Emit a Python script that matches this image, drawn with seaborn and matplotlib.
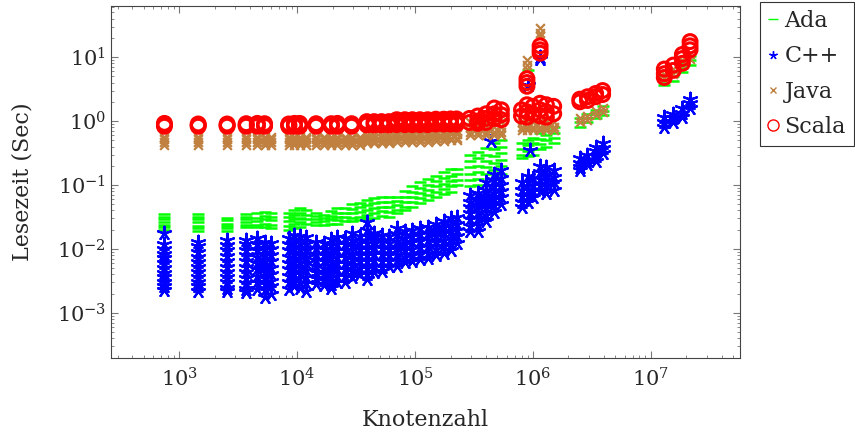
import pandas as pd
import matplotlib
matplotlib.use("Agg")
import matplotlib.pyplot as plt
from matplotlib.lines import Line2D
import seaborn as sns

# Messwerte: (Knotenzahl, [Lesezeiten in Sekunden])
ada = [
    (750, [0.035, 0.032, 0.029, 0.026, 0.024, 0.022, 0.020]),
    (1450, [0.035, 0.032, 0.029, 0.026, 0.023, 0.021, 0.019]),
    (2550, [0.031, 0.028, 0.025, 0.023, 0.021, 0.019]),
    (3700, [0.035, 0.032, 0.029, 0.026, 0.024, 0.022]),
    (4600, [0.036, 0.031, 0.027, 0.024, 0.022]),
    (5300, [0.038, 0.033, 0.029, 0.025, 0.022]),
    (6000, [0.037, 0.032, 0.028, 0.024, 0.021]),
    (8500, [0.037, 0.032, 0.027, 0.023, 0.020]),
    (9500, [0.040, 0.034, 0.029, 0.025, 0.021]),
    (10500, [0.044, 0.037, 0.031, 0.026, 0.022]),
    (11800, [0.040, 0.034, 0.029, 0.025]),
    (14500, [0.037, 0.033, 0.029, 0.026, 0.024]),
    (17000, [0.034, 0.030, 0.027, 0.024]),
    (19500, [0.039, 0.033, 0.029, 0.025]),
    (22000, [0.044, 0.037, 0.032, 0.028, 0.025]),
    (25500, [0.043, 0.037, 0.032, 0.027]),
    (29000, [0.050, 0.042, 0.036, 0.031, 0.027]),
    (34000, [0.052, 0.045, 0.038, 0.032, 0.028]),
    (39000, [0.058, 0.048, 0.040, 0.034, 0.029]),
    (45000, [0.062, 0.052, 0.044, 0.037, 0.031]),
    (52000, [0.065, 0.055, 0.046, 0.039, 0.033]),
    (60000, [0.064, 0.054, 0.045, 0.038, 0.032]),
    (70000, [0.066, 0.056, 0.048, 0.041, 0.036]),
    (82000, [0.080, 0.066, 0.055, 0.046, 0.040]),
    (95000, [0.095, 0.078, 0.065, 0.054, 0.045]),
    (110000, [0.110, 0.090, 0.075, 0.062, 0.052]),
    (128000, [0.125, 0.100, 0.083, 0.069, 0.058]),
    (150000, [0.140, 0.115, 0.095, 0.078, 0.065]),
    (175000, [0.160, 0.130, 0.105, 0.087, 0.072]),
    (200000, [0.175, 0.140, 0.115, 0.095, 0.078]),
    (225000, [0.180, 0.150, 0.120, 0.100]),
    (290000, [0.30, 0.24, 0.19, 0.15, 0.12, 0.095]),
    (340000, [0.33, 0.26, 0.20, 0.16, 0.125, 0.10]),
    (400000, [0.38, 0.30, 0.24, 0.19, 0.15]),
    (470000, [0.45, 0.36, 0.28, 0.22, 0.17]),
    (540000, [0.50, 0.40, 0.32, 0.25, 0.20, 0.15]),
    (800000, [0.45, 0.37, 0.30, 0.26]),
    (900000, [0.50, 0.42, 0.34, 0.28, 6.3]),
    (1000000, [0.55, 0.45, 0.37, 0.30]),
    (1150000, [0.65, 0.53, 0.44, 0.36, 10.5]),
    (1300000, [0.72, 0.60, 0.50, 0.40]),
    (1500000, [0.80, 0.66, 0.55, 0.45]),
    (2500000, [1.10, 0.95, 0.80]),
    (2900000, [1.30, 1.10, 0.95]),
    (3400000, [1.50, 1.30, 1.10]),
    (3900000, [1.70, 1.45, 1.25]),
    (13000000, [5.0, 4.2, 3.65]),
    (15500000, [6.0, 5.0, 4.3]),
    (18500000, [8.0, 6.8, 5.8]),
    (21500000, [10.5, 9.0, 7.5]),
]

cpp = [
    (750, [0.0177, 0.012, 0.010, 0.0085, 0.0072, 0.006, 0.005, 0.0042, 0.0036, 0.003, 0.0026, 0.0023]),
    (1450, [0.013, 0.011, 0.009, 0.0075, 0.0062, 0.0052, 0.0044, 0.0037, 0.0031, 0.0026, 0.0022]),
    (2550, [0.014, 0.0115, 0.0095, 0.0078, 0.0064, 0.0053, 0.0044, 0.0036, 0.003, 0.0025, 0.0022]),
    (3700, [0.014, 0.012, 0.0098, 0.008, 0.0065, 0.0053, 0.0043, 0.0035, 0.0029, 0.0024, 0.0021]),
    (4600, [0.015, 0.012, 0.0095, 0.0075, 0.006, 0.0048, 0.0038, 0.003, 0.0024]),
    (5300, [0.013, 0.0105, 0.0085, 0.0068, 0.0055, 0.0044, 0.0035, 0.0028, 0.0023, 0.0018]),
    (6000, [0.0125, 0.010, 0.008, 0.0064, 0.005, 0.004, 0.0032, 0.0026, 0.002]),
    (8500, [0.015, 0.012, 0.0095, 0.0075, 0.006, 0.0048, 0.0038, 0.003, 0.0024]),
    (9500, [0.0165, 0.013, 0.0105, 0.0083, 0.0066, 0.0052, 0.0041, 0.0032, 0.0026]),
    (10500, [0.016, 0.0125, 0.010, 0.008, 0.0063, 0.005, 0.004, 0.0031, 0.0025]),
    (11800, [0.0155, 0.012, 0.0095, 0.0075, 0.006, 0.0047, 0.0037, 0.0029, 0.0022]),
    (14500, [0.013, 0.0105, 0.0085, 0.0068, 0.0054, 0.0043, 0.0035, 0.0028]),
    (17000, [0.0125, 0.010, 0.008, 0.0064, 0.0051, 0.0041, 0.0033, 0.0027]),
    (19500, [0.0145, 0.0115, 0.009, 0.0072, 0.0057, 0.0045, 0.0036, 0.0028, 0.0025]),
    (22000, [0.0155, 0.012, 0.0095, 0.0076, 0.006, 0.0048, 0.0038, 0.003]),
    (25500, [0.015, 0.012, 0.0095, 0.0075, 0.006, 0.0048, 0.0038, 0.0031]),
    (29000, [0.018, 0.014, 0.011, 0.0088, 0.007, 0.0056, 0.0045, 0.0036]),
    (34000, [0.016, 0.0125, 0.010, 0.008, 0.0064, 0.0051, 0.0041]),
    (39000, [0.026, 0.020, 0.016, 0.0125, 0.010, 0.008, 0.0064, 0.0051, 0.0041, 0.0034]),
    (45000, [0.018, 0.0155, 0.0135, 0.0107, 0.0085, 0.0068, 0.0054, 0.0043]),
    (52000, [0.0165, 0.013, 0.0105, 0.0083, 0.0066, 0.0053, 0.0045]),
    (60000, [0.016, 0.0125, 0.010, 0.008, 0.0064, 0.0055]),
    (70000, [0.021, 0.017, 0.0135, 0.0107, 0.0085, 0.0068, 0.0055]),
    (82000, [0.019, 0.015, 0.012, 0.0095, 0.0075, 0.0062]),
    (95000, [0.020, 0.016, 0.0127, 0.010, 0.008, 0.0066]),
    (110000, [0.021, 0.017, 0.0135, 0.0107, 0.0085, 0.007]),
    (128000, [0.022, 0.0175, 0.014, 0.011, 0.0088, 0.0072]),
    (150000, [0.025, 0.020, 0.016, 0.0127, 0.010, 0.0082]),
    (175000, [0.027, 0.022, 0.0175, 0.014, 0.011, 0.0088]),
    (200000, [0.030, 0.024, 0.019, 0.015, 0.012, 0.0095]),
    (225000, [0.032, 0.025, 0.020, 0.016, 0.0125]),
    (290000, [0.070, 0.055, 0.045, 0.036, 0.029, 0.023, 0.019]),
    (340000, [0.075, 0.060, 0.048, 0.038, 0.030, 0.024, 0.019]),
    (400000, [0.110, 0.085, 0.068, 0.054, 0.043, 0.034, 0.027]),
    (440000, [0.49]),
    (470000, [0.150, 0.120, 0.095, 0.075, 0.060, 0.048, 0.038]),
    (540000, [0.170, 0.130, 0.100, 0.080, 0.065, 0.050]),
    (800000, [0.110, 0.085, 0.068, 0.054, 0.045]),
    (900000, [0.140, 0.110, 0.085, 0.068, 0.055, 3.6]),
    (950000, [0.35]),
    (1000000, [0.130, 0.100, 0.080, 0.064]),
    (1150000, [0.200, 0.160, 0.125, 0.100, 0.080, 10.0, 9.5]),
    (1300000, [0.190, 0.150, 0.120, 0.095, 0.075]),
    (1500000, [0.170, 0.135, 0.110, 0.085]),
    (2500000, [0.26, 0.22, 0.19, 0.17]),
    (2900000, [0.30, 0.25, 0.21]),
    (3400000, [0.40, 0.34, 0.28, 0.24]),
    (3900000, [0.45, 0.38, 0.32]),
    (13000000, [1.15, 0.95, 0.80]),
    (15500000, [1.30, 1.10, 0.95]),
    (18500000, [1.60, 1.35, 1.15]),
    (21500000, [2.20, 1.90, 1.60]),
]

java = [
    (750, [0.57, 0.52, 0.47, 0.43]),
    (1450, [0.57, 0.52, 0.47, 0.43]),
    (2550, [0.57, 0.52, 0.47, 0.43]),
    (3700, [0.57, 0.52, 0.47, 0.43]),
    (4600, [0.57, 0.52, 0.47, 0.43]),
    (5300, [0.57, 0.52, 0.47, 0.43]),
    (6000, [0.57, 0.52, 0.47, 0.43]),
    (8500, [0.57, 0.52, 0.47, 0.43]),
    (9500, [0.57, 0.52, 0.47, 0.43]),
    (10500, [0.57, 0.52, 0.47, 0.43]),
    (11800, [0.57, 0.52, 0.47, 0.43]),
    (14500, [0.57, 0.52, 0.47, 0.43]),
    (17000, [0.57, 0.52, 0.47, 0.43]),
    (19500, [0.57, 0.52, 0.47, 0.43]),
    (22000, [0.57, 0.52, 0.47, 0.43]),
    (25500, [0.57, 0.52, 0.47, 0.43]),
    (29000, [0.57, 0.52, 0.47, 0.43]),
    (34000, [0.57, 0.52, 0.47, 0.43]),
    (39000, [0.60, 0.54, 0.49, 0.45]),
    (45000, [0.60, 0.54, 0.49, 0.45]),
    (52000, [0.60, 0.54, 0.49, 0.45]),
    (60000, [0.60, 0.54, 0.49, 0.45]),
    (70000, [0.65, 0.58, 0.52, 0.47]),
    (82000, [0.65, 0.58, 0.52, 0.47]),
    (95000, [0.65, 0.58, 0.52, 0.47]),
    (110000, [0.65, 0.58, 0.52, 0.47]),
    (128000, [0.65, 0.58, 0.52, 0.47]),
    (150000, [0.68, 0.60, 0.54, 0.48]),
    (175000, [0.68, 0.60, 0.54, 0.48]),
    (200000, [0.70, 0.62, 0.55, 0.50]),
    (225000, [0.70, 0.62, 0.55, 0.50]),
    (290000, [0.95, 0.80, 0.68, 0.60]),
    (340000, [0.95, 0.80, 0.68, 0.60]),
    (400000, [0.95, 0.80, 0.68, 0.60]),
    (470000, [0.95, 0.80, 0.68, 0.60]),
    (540000, [0.95, 0.80, 0.68, 0.60]),
    (800000, [0.95, 0.82, 0.72]),
    (890000, [0.95, 0.82, 0.72, 9.0, 7.5, 6.5]),
    (1000000, [0.95, 0.82, 0.72]),
    (1150000, [0.95, 0.82, 0.72, 28.0, 24.0, 21.0]),
    (1300000, [0.95, 0.82, 0.72]),
    (1500000, [0.95, 0.82, 0.72]),
    (2500000, [1.10, 0.98]),
    (2900000, [1.20, 1.05]),
    (3400000, [1.45, 1.25]),
    (3900000, [1.60, 1.40]),
    (13000000, [5.5, 4.7]),
    (15500000, [6.5, 5.5]),
    (18500000, [9.0, 7.5]),
    (21500000, [11.0, 9.5]),
]

scala = [
    (750, [0.92, 0.87, 0.83]),
    (1450, [0.90, 0.86, 0.83]),
    (2550, [0.90, 0.86, 0.83]),
    (3700, [0.91, 0.87, 0.83]),
    (4600, [0.92, 0.87, 0.83]),
    (5300, [0.91, 0.87, 0.83]),
    (8500, [0.90, 0.86, 0.83]),
    (9500, [0.92, 0.87, 0.83]),
    (10500, [0.92, 0.87, 0.83]),
    (14500, [0.91, 0.87, 0.83]),
    (19500, [0.91, 0.87, 0.83]),
    (22000, [0.92, 0.87, 0.83]),
    (29000, [0.91, 0.87, 0.83]),
    (39000, [0.98, 0.92, 0.87]),
    (45000, [0.98, 0.92, 0.87]),
    (52000, [0.98, 0.92, 0.87]),
    (60000, [0.98, 0.92, 0.87]),
    (70000, [1.05, 0.98, 0.92, 0.88]),
    (82000, [1.05, 0.98, 0.92, 0.88]),
    (95000, [1.05, 0.98, 0.92, 0.88]),
    (110000, [1.05, 0.98, 0.92, 0.88]),
    (128000, [1.05, 0.98, 0.92, 0.88]),
    (150000, [1.07, 1.00, 0.94, 0.90]),
    (175000, [1.07, 1.00, 0.94, 0.90]),
    (200000, [1.08, 1.00, 0.95, 0.90]),
    (225000, [1.08, 1.00, 0.95, 0.90]),
    (290000, [1.10, 0.95]),
    (340000, [1.20, 1.00, 0.92]),
    (400000, [1.30, 1.10, 0.95]),
    (470000, [1.60, 1.30, 1.10]),
    (540000, [1.50, 1.25, 1.05]),
    (800000, [1.50, 1.20]),
    (890000, [1.80, 1.40, 1.15, 4.6, 4.0, 3.5]),
    (1000000, [1.70, 1.30]),
    (1150000, [1.90, 1.50, 1.20, 15.0, 13.0, 11.5]),
    (1300000, [1.80, 1.40, 1.15]),
    (1500000, [1.70, 1.30]),
    (2500000, [2.2, 2.0]),
    (2900000, [2.4, 2.1]),
    (3400000, [2.7, 2.4]),
    (3900000, [3.0, 2.6]),
    (13000000, [6.5, 5.5, 4.8]),
    (15500000, [7.5, 6.2]),
    (18500000, [11.0, 9.5, 8.0]),
    (21500000, [17.5, 15.0, 13.0]),
]

sprachen = ["Ada", "C++", "Java", "Scala"]
farben = {"Ada": "#00ff00", "C++": "#0000ff", "Java": "#bf8040", "Scala": "#ff0000"}

rows = []
for name, daten in zip(sprachen, [ada, cpp, java, scala]):
    for knoten, zeiten in daten:
        for z in zeiten:
            rows.append({"Sprache": name, "Knotenzahl": knoten, "Zeit": z})
df = pd.DataFrame(rows)

sns.set_style("ticks")
plt.rcParams["font.family"] = ["DejaVu Serif"]
plt.rcParams["mathtext.fontset"] = "dejavuserif"

fig = plt.figure(figsize=(8.55, 4.36), dpi=100)
ax = fig.add_axes([0.130, 0.179, 0.7355, 0.807])

# Ada: waagerechte Striche
sns.scatterplot(data=df[df["Sprache"] == "Ada"], x="Knotenzahl", y="Zeit", ax=ax,
                marker="_", color=farben["Ada"], s=80, linewidth=1.8, legend=False)
# C++: Sterne
sns.scatterplot(data=df[df["Sprache"] == "C++"], x="Knotenzahl", y="Zeit", ax=ax,
                marker=(5, 2, 0), color=farben["C++"], s=95, linewidth=1.6, legend=False)
# Java: Kreuze
sns.scatterplot(data=df[df["Sprache"] == "Java"], x="Knotenzahl", y="Zeit", ax=ax,
                marker="x", color=farben["Java"], s=40, linewidth=1.6, legend=False)
# Scala: Kreise
sns.scatterplot(data=df[df["Sprache"] == "Scala"], x="Knotenzahl", y="Zeit", ax=ax,
                marker="o", color=farben["Scala"], s=100, linewidth=2.2, legend=False)
kreise = ax.collections[-1]
kreise.set_facecolor("none")
kreise.set_edgecolor(farben["Scala"])

ax.set_xscale("log")
ax.set_yscale("log")
ax.set_xlim(265, 5.7e7)
ax.set_ylim(1.98e-4, 62.7)
ax.set_xlabel("Knotenzahl", fontsize=16, labelpad=13)
ax.set_ylabel("Lesezeit (Sec)", fontsize=16, labelpad=17)
ax.tick_params(which="both", direction="in", top=True, right=True, labelsize=15, color="#777777")
ax.tick_params(axis="x", which="both", pad=7)
ax.tick_params(which="major", length=5)
ax.tick_params(which="minor", length=2.5)
for s in ax.spines.values():
    s.set_color("#444444")
    s.set_linewidth(0.8)

handles = [
    Line2D([], [], marker="_", color=farben["Ada"], linestyle="none", markersize=7),
    Line2D([], [], marker=(5, 2, 0), color=farben["C++"], linestyle="none", markersize=6),
    Line2D([], [], marker="x", color=farben["Java"], linestyle="none", markersize=5),
    Line2D([], [], marker="o", markeredgecolor=farben["Scala"], markerfacecolor="none",
           linestyle="none", markersize=8),
]
leg = fig.legend(handles, sprachen, loc="upper left", bbox_to_anchor=(0.889, 0.995),
                 fontsize=16, frameon=True, fancybox=False, edgecolor="black",
                 handlelength=0.5, handletextpad=0.25, labelspacing=0.6, borderpad=0.35,
                 borderaxespad=0)
leg.get_frame().set_linewidth(0.8)

fig.savefig("out.png", dpi=100)
